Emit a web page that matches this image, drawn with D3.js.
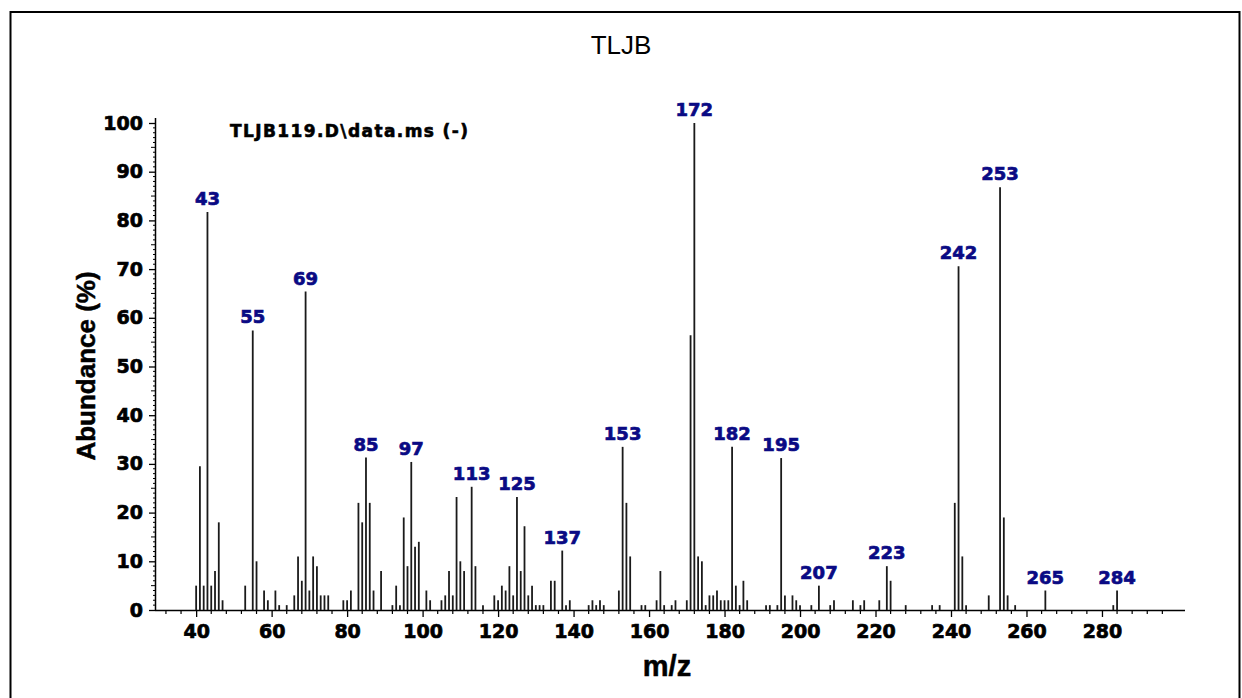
<!DOCTYPE html>
<html lang="en">
<head>
	<meta charset="UTF-8">
	<script src="https://d3js.org/d3.v7.min.js"></script>
	<title>TLJB</title>
	<style type="text/css">
		body{ margin: 0; background: #fff; }
		.tick text{ font-family: "DejaVu Sans", sans-serif; font-weight: bold; font-size: 19px; fill: #000; stroke: #000; stroke-width: 0.7px; }
		.peak{ stroke: #1a1a1a; stroke-width: 1.8; }
		.plabel{ font-family: "DejaVu Sans", sans-serif; font-weight: bold; font-size: 18px; fill: #0a0a84; stroke: #0a0a84; stroke-width: 0.7px; }
	</style>
</head>
<body>
	<svg width="1242" height="698"></svg>

	<script>
		// m/z of each ion and its relative abundance (%)
		var mz = [40, 41, 42, 43, 44, 45, 46, 47, 53, 55, 56, 58, 59, 61, 62, 64, 66, 67, 68, 69,
			70, 71, 72, 73, 74, 75, 79, 80, 81, 83, 84, 85, 86, 87, 89, 92, 93, 94, 95, 96,
			97, 98, 99, 101, 102, 105, 106, 107, 108, 109, 110, 111, 113, 114, 116, 119, 120, 121, 122, 123,
			124, 125, 126, 127, 128, 129, 130, 131, 132, 134, 135, 137, 138, 139, 144, 145, 146, 147, 148, 152,
			153, 154, 155, 158, 159, 162, 163, 164, 166, 167, 170, 171, 172, 173, 174, 175, 176, 177, 178, 179,
			180, 181, 182, 183, 184, 185, 186, 191, 192, 194, 195, 196, 198, 199, 200, 203, 205, 208, 209, 214,
			216, 217, 221, 223, 224, 228, 235, 237, 241, 242, 243, 244, 250, 253, 254, 255, 257, 265, 283, 284];
		var abundance = [5, 29.5, 5, 81.7, 5, 8, 18, 2, 5, 57.4, 10, 4, 2, 4, 1, 1, 3, 11, 6, 65.4,
			4, 11, 9, 3, 3, 3, 2, 2, 4, 22, 18, 31.3, 22, 4, 8, 1, 5, 1, 19, 9,
			30.4, 13, 14, 4, 2, 2, 3, 8, 3, 23.2, 10, 8, 25.3, 9, 1, 3, 2, 5, 4, 9,
			3, 23.2, 8, 17.2, 3, 5, 1, 1, 1, 6, 6, 12.2, 1, 2, 1, 2, 1, 2, 1, 4,
			33.5, 22, 11, 1, 1, 2, 8, 1, 1, 2, 2, 56.4, 100, 11, 10, 1, 3, 3, 4, 2,
			2, 2, 33.5, 5, 1, 6, 2, 1, 1, 1, 31.2, 3, 3, 2, 1, 1, 5, 1, 2, 2,
			1, 2, 2, 9, 6, 1, 1, 1, 22, 70.6, 11, 1, 3, 86.8, 19, 3, 1, 4, 1, 4];

		// labelled peaks: position on the m/z axis and the text printed above it
		var labelAt = [43, 55, 69, 85, 97, 113, 125, 137, 153, 172, 182, 195, 205, 223, 242, 253, 265, 284];
		var labelText = ["43", "55", "69", "85", "97", "113", "125", "137", "153", "172", "182", "195", "207", "223", "242", "253", "265", "284"];

		var xMajor = d3.range(40, 281, 20);
		var yMajor = d3.range(0, 101, 10);

		var svg = d3.select("svg");

		svg.append("rect")
			.attr("width", 1242).attr("height", 698).attr("fill", "#fff");

		// outer frame
		svg.append("rect")
			.attr("x", 10.5).attr("y", 12)
			.attr("width", 1229).attr("height", 700)
			.attr("fill", "none").attr("stroke", "#000").attr("stroke-width", 2);

		svg.append("text")
			.attr("x", 621).attr("y", 54)
			.attr("text-anchor", "middle")
			.attr("font-family", "Liberation Sans, Arial, sans-serif")
			.attr("font-size", "26px")
			.text("TLJB");

		var xScale = d3.scaleLinear().domain([29.1, 302]).range([155, 1185]),
			yScale = d3.scaleLinear().domain([0, 100]).range([610, 123]);

		// x axis
		var gx = svg.append("g")
			.attr("transform", "translate(0,610)")
			.call(d3.axisBottom(xScale).tickValues(xMajor).tickSize(7).tickPadding(8).tickFormat(d3.format("d")));
		gx.select(".domain").attr("d", "M155,0.5H1185").attr("stroke", "#000").attr("stroke-width", 1.5);
		gx.selectAll(".tick line").attr("stroke", "#000").attr("stroke-width", 1.3);

		gx.selectAll(".minor")
			.data(d3.range(32, 301, 4).filter(function(d) { return d % 20 != 0; }))
			.enter().append("line")
			.attr("class", "minor")
			.attr("x1", function(d) { return xScale(d); })
			.attr("x2", function(d) { return xScale(d); })
			.attr("y1", 0).attr("y2", 4)
			.attr("stroke", "#000").attr("stroke-width", 1.2);

		// y axis
		var gy = svg.append("g")
			.attr("transform", "translate(155,0)")
			.call(d3.axisLeft(yScale).tickValues(yMajor).tickSize(6).tickPadding(6));
		gy.select(".domain").attr("d", "M0.5,118V610").attr("stroke", "#000").attr("stroke-width", 1.5);
		gy.selectAll(".tick line").attr("stroke", "#000").attr("stroke-width", 1.3);

		gy.selectAll(".minor")
			.data(d3.range(1, 101, 1).filter(function(d) { return d % 10 != 0; }))
			.enter().append("line")
			.attr("class", "minor")
			.attr("x1", 0)
			.attr("x2", function(d) { return d % 5 == 0 ? -4 : -2; })
			.attr("y1", function(d) { return yScale(d); })
			.attr("y2", function(d) { return yScale(d); })
			.attr("stroke", "#000").attr("stroke-width", 1);

		// axis titles
		svg.append("text")
			.attr("transform", "translate(95,366) rotate(-90)")
			.attr("text-anchor", "middle")
			.attr("font-family", "Liberation Sans, Arial, sans-serif")
			.attr("font-weight", "bold")
			.attr("font-size", "26px")
			.attr("stroke", "#000").attr("stroke-width", 0.5)
			.text("Abundance (%)");

		svg.append("text")
			.attr("x", 667).attr("y", 676)
			.attr("text-anchor", "middle")
			.attr("font-family", "Liberation Sans, Arial, sans-serif")
			.attr("font-weight", "bold")
			.attr("font-size", "29px")
			.attr("stroke", "#000").attr("stroke-width", 0.5)
			.text("m/z");

		svg.append("text")
			.attr("x", 230).attr("y", 137)
			.attr("font-family", "DejaVu Sans, sans-serif")
			.attr("font-weight", "bold")
			.attr("font-size", "17px")
			.attr("stroke", "#000").attr("stroke-width", 0.6)
			.attr("textLength", 238)
			.text("TLJB119.D\\data.ms (-)");

		// peaks
		var peaks = mz.map(function(m, i) { return {mz: m, value: abundance[i]}; });

		svg.selectAll(".peak")
			.data(peaks)
			.enter().append("line")
			.attr("class", "peak")
			.attr("x1", function(d) { return xScale(d.mz); })
			.attr("x2", function(d) { return xScale(d.mz); })
			.attr("y1", yScale(0))
			.attr("y2", function(d) { return yScale(d.value); });

		var labels = labelAt.map(function(m, i) {
			return {mz: m, text: labelText[i], value: abundance[mz.indexOf(m)]};
		});

		svg.selectAll(".plabel")
			.data(labels)
			.enter().append("text")
			.attr("class", "plabel")
			.attr("text-anchor", "middle")
			.attr("x", function(d) { return xScale(d.mz); })
			.attr("y", function(d) { return yScale(d.value) - 7; })
			.text(function(d) { return d.text; });
	</script>
</body>
</html>
